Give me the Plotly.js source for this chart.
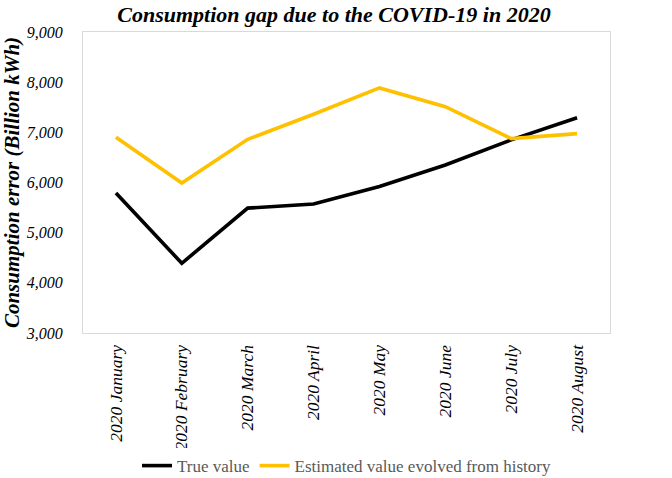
<!DOCTYPE html>
<html><head><meta charset="utf-8">
<script src="https://cdn.plot.ly/plotly-3.0.1.min.js"></script>
<style>html,body{margin:0;padding:0;background:#fff}</style>
</head><body>
<div id="chart" style="width:672px;height:478px"></div>
<script>
const months = ["2020 January","2020 February","2020 March","2020 April","2020 May","2020 June","2020 July","2020 August"];
const trueValue = [5790, 4390, 5490, 5570, 5920, 6350, 6850, 7290];
const estimatedValue = [6900, 5990, 6860, 7360, 7885, 7510, 6875, 6975];
const yTicks = [3000, 4000, 5000, 6000, 7000, 8000, 9000];

const font = "'Liberation Serif', 'Times New Roman', serif";
const data = [
  {x: months, y: trueValue, type: 'scatter', mode: 'lines', name: 'True value',
   line: {color: '#000000', width: 3.6}},
  {x: months, y: estimatedValue, type: 'scatter', mode: 'lines', name: 'Estimated value evolved from history',
   line: {color: '#FFC000', width: 3.6}}
];
const layout = {
  width: 672, height: 478,
  margin: {l: 83, r: 62, t: 32, b: 145},
  paper_bgcolor: '#fff', plot_bgcolor: '#fff',
  font: {family: font, color: '#000'},
  title: {text: '<b><i>Consumption gap due to the COVID-19 in 2020</i></b>', x: 0.497, xanchor: 'center',
          yref: 'container', y: 0.971, yanchor: 'middle',
          font: {family: font, size: 22, color: '#000'}},
  xaxis: {type: 'category', range: [-0.5, 7.5], showline: true, mirror: true, linecolor: '#d9d9d9', linewidth: 1,
          showgrid: false, ticks: '', tickangle: -90, automargin: false, ticklabelstandoff: 4,
          tickfont: {family: font, size: 17.5, color: '#000', style: 'italic'}},
  yaxis: {range: [3000, 9000], tickvals: yTicks, tickformat: ',d', showline: true, mirror: true, linecolor: '#d9d9d9', linewidth: 1,
          showgrid: false, zeroline: false, ticks: '', ticklabelstandoff: 16, automargin: false,
          tickfont: {family: font, size: 16, color: '#000', style: 'italic'},
          title: {text: '<b><i>Consumption error (Billion kWh)</i></b>', font: {family: font, size: 21, color: '#000'}, standoff: 6}},
  showlegend: true,
  legend: {orientation: 'h', x: 0.5, xanchor: 'center', yref: 'container', y: 0.025, yanchor: 'middle',
           font: {family: font, size: 17, color: '#595959'}, itemwidth: 30, tracegroupgap: 0}
};
Plotly.newPlot('chart', data, layout, {displayModeBar: false});
</script>
</body></html>
